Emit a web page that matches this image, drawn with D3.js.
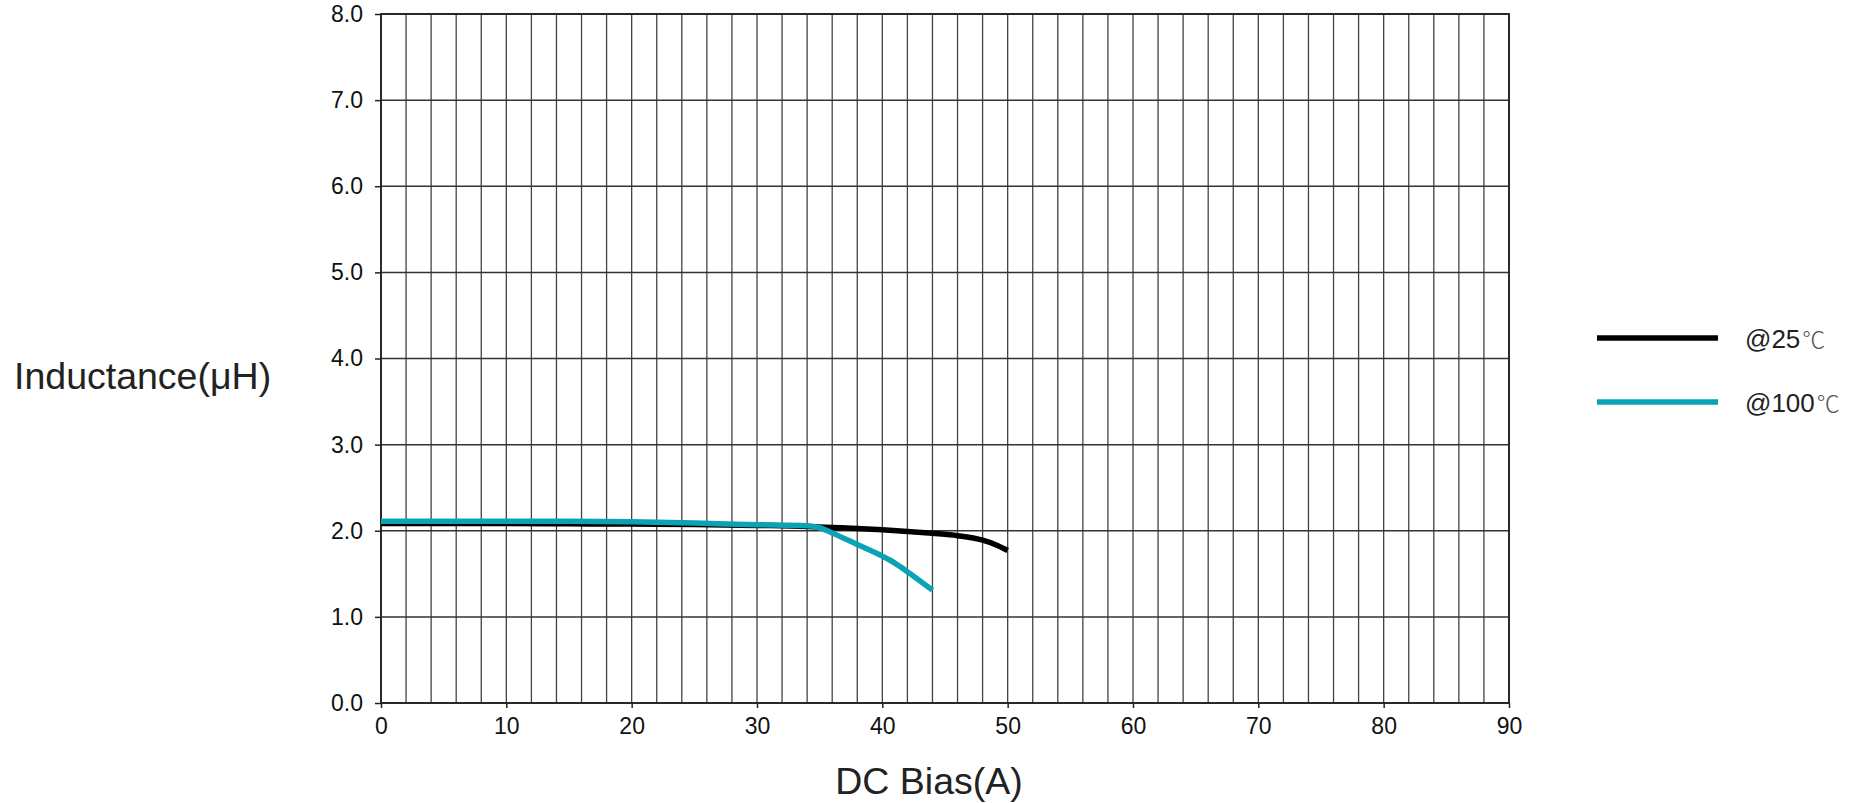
<!DOCTYPE html>
<html>
<head>
<meta charset="utf-8">
<script src="https://cdn.jsdelivr.net/npm/d3@7"></script>
<style>
  body { margin: 0; background: #fff; }
  svg { display: block; font-family: Arial, "Liberation Sans", sans-serif; }
</style>
</head>
<body>
<div id="chart-area"></div>
<script>
const canvas_width = 1857;
const canvas_height = 803;

// DC bias (A) and inductance (uH)
const bias_25 = [0, 5, 10, 15, 20, 25, 30, 34, 36, 38, 40, 42, 44, 46, 48, 49, 50];
const ind_25 = [2.085, 2.085, 2.083, 2.08, 2.077, 2.072, 2.062, 2.05, 2.038, 2.026, 2.011, 1.992, 1.97, 1.943, 1.89, 1.84, 1.77];

const bias_100 = [0, 5, 10, 15, 20, 25, 30, 34, 35, 36, 38, 40, 41, 42, 44];
const ind_100 = [2.11, 2.11, 2.11, 2.11, 2.105, 2.09, 2.07, 2.057, 2.035, 1.975, 1.84, 1.705, 1.625, 1.525, 1.31];

const x_ticks = [0, 10, 20, 30, 40, 50, 60, 70, 80, 90];
const y_ticks = [0, 1, 2, 3, 4, 5, 6, 7, 8];
const series_names = ['@25', '@100'];
const series_colors = ['#000000', '#0aa3b5'];

const x_axis_label = 'DC Bias(A)';
const y_axis_label = 'Inductance(μH)';

const margin = { left: 381, right: 348, top: 14, bottom: 100 };
const width = canvas_width - margin.left - margin.right;
const height = canvas_height - margin.top - margin.bottom;

let canvas = d3.select('#chart-area').append('svg')
    .attr('width', canvas_width)
    .attr('height', canvas_height);
let group = canvas.append('g').attr('transform', `translate(${margin.left}, ${margin.top})`);

let x = d3.scaleLinear().domain([0, 90]).range([0, width]);
let y = d3.scaleLinear().domain([0, 8]).range([height, 0]);

// grid
group.append('g').selectAll('line.v').data(d3.range(0, 91, 2)).enter().append('line')
    .attr('x1', (d) => x(d)).attr('x2', (d) => x(d))
    .attr('y1', 0).attr('y2', height)
    .attr('stroke', '#444').attr('stroke-width', 1.3);
group.append('g').selectAll('line.h').data(y_ticks).enter().append('line')
    .attr('x1', 0).attr('x2', width)
    .attr('y1', (d) => y(d)).attr('y2', (d) => y(d))
    .attr('stroke', '#333').attr('stroke-width', 1.5);
group.append('rect')
    .attr('width', width).attr('height', height)
    .attr('fill', 'none').attr('stroke', '#222').attr('stroke-width', 1.8);

let bottomAxis = d3.axisBottom(x).tickValues(x_ticks).tickSize(5).tickPadding(10);
group.append('g')
    .attr('class', 'bottom axis')
    .attr('transform', `translate(0, ${height})`)
    .call(bottomAxis)
    .call((g) => g.select('.domain').remove())
    .selectAll('text')
        .attr('font-size', '23px')
        .attr('font-family', 'Arial, "Liberation Sans", sans-serif')
        .attr('fill', '#111');

let leftAxis = d3.axisLeft(y).tickValues(y_ticks).tickSize(6).tickPadding(12)
    .tickFormat(d3.format('.1f'));
group.append('g')
    .attr('class', 'left axis')
    .call(leftAxis)
    .call((g) => g.select('.domain').remove())
    .selectAll('text')
        .attr('font-size', '23px')
        .attr('font-family', 'Arial, "Liberation Sans", sans-serif')
        .attr('fill', '#111');
group.selectAll('.tick line').attr('stroke', '#222').attr('stroke-width', 1.5);

// curves
let line = d3.line()
    .x((d) => x(d[0]))
    .y((d) => y(d[1]))
    .curve(d3.curveMonotoneX);

let curves = [d3.zip(bias_25, ind_25), d3.zip(bias_100, ind_100)];
curves.forEach((pts, i) => {
    group.append('path')
        .datum(pts)
        .attr('d', line)
        .attr('fill', 'none')
        .attr('stroke', series_colors[i])
        .attr('stroke-width', 5.5)
        .attr('stroke-linejoin', 'round');
});

// axis titles
canvas.append('text')
    .attr('x', 14)
    .attr('y', 389)
    .attr('font-size', '37.5px')
    .attr('fill', '#222')
    .text(y_axis_label);

canvas.append('text')
    .attr('x', 929)
    .attr('y', 794)
    .attr('font-size', '37.5px')
    .attr('text-anchor', 'middle')
    .attr('fill', '#222')
    .text(x_axis_label);

// legend
let legend = canvas.append('g');
series_names.forEach((name, i) => {
    let ly = 338 + i * 64;
    legend.append('line')
        .attr('x1', 1597).attr('x2', 1718)
        .attr('y1', ly).attr('y2', ly)
        .attr('stroke', series_colors[i])
        .attr('stroke-width', 5.5);
    let t = legend.append('text')
        .attr('x', 1745)
        .attr('y', ly + 10)
        .attr('font-size', '26px')
        .attr('fill', '#222')
        .text(name);
    t.append('tspan')
        .attr('dx', 2)
        .attr('font-size', '23px')
        .attr('font-weight', 300)
        .attr('font-family', '"Noto Sans CJK SC", sans-serif')
        .attr('fill', '#555')
        .text('℃');
});
</script>
</body>
</html>
